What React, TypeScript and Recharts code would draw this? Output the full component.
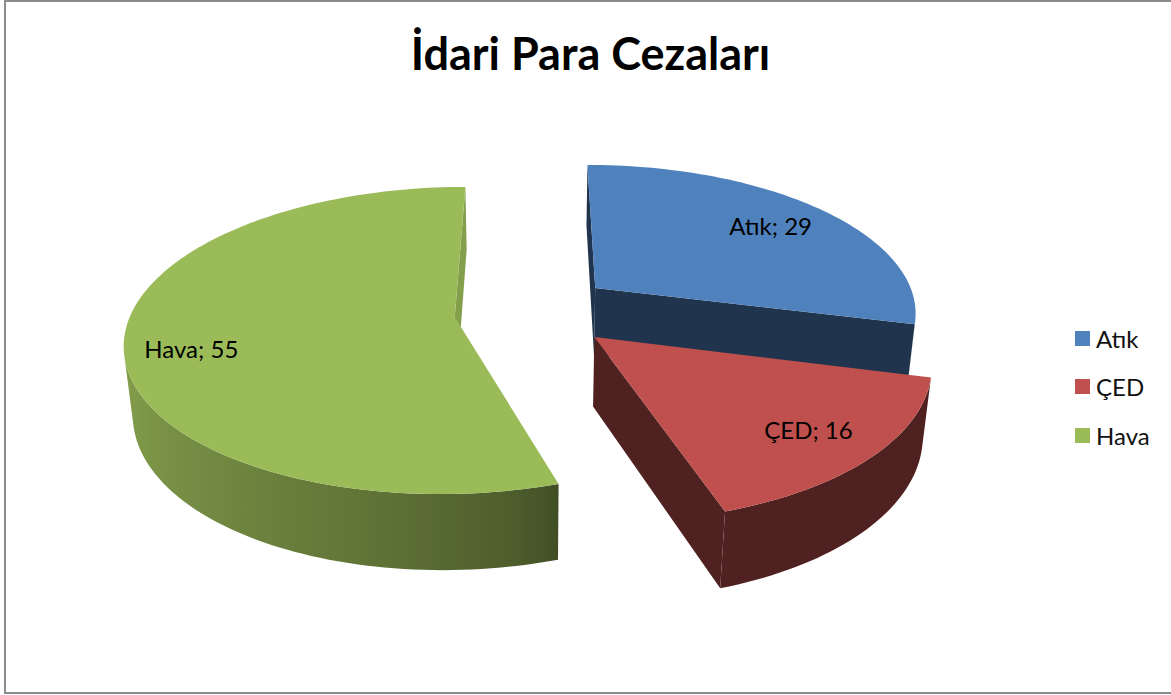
import React from 'react'
import { PieChart, Pie, Legend } from 'recharts'

const TITLE = 'İdari Para Cezaları'
const names = ['Atık', 'ÇED', 'Hava']
const values = [29, 16, 55]
const colors = ['#4f81bd', '#c0504d', '#9bbb59']

const data = names.map((name, i) => ({ name, value: values[i], fill: colors[i] }))

// fake 3D camera, fitted by eye against the picture
const PERSPECTIVE = 0.153
const SQUASH = 150 / 325
const DEPTH = 70 / 325
const DEPTH_SHRINK = 0.022

// how far each slice is pulled out, in radius units
const explode: Record<string, { x: number; y: number; cut: number; label: number; dy: number }> = {
  'Atık': { x: 0.191, y: -0.2, cut: 0.41, label: 0.77, dy: 0 },
  'ÇED': { x: 0.179, y: 0.131, cut: 0.41, label: 0.79, dy: 0 },
  'Hava': { x: -0.247, y: 0, cut: 0.85, label: 0.8, dy: 12 },
}

const project = (cx: number, cy: number, r: number, x: number, y: number, z: number) => {
  const k = 1 / (1 - PERSPECTIVE * y + DEPTH_SHRINK * z)
  return [cx + r * x * k, cy + r * (SQUASH * y + DEPTH * z) * k]
}

const toPath = (pts: number[][]) =>
  'M' + pts.map(p => p[0].toFixed(2) + ',' + p[1].toFixed(2)).join('L') + 'Z'

const area = (pts: number[][]) =>
  pts.reduce((sum, p, i) => {
    const q = pts[(i + 1) % pts.length]
    return sum + p[0] * q[1] - q[0] * p[1]
  }, 0)

const darken = (hex: string, f: number) => {
  const n = parseInt(hex.slice(1), 16)
  const c = [n >> 16, (n >> 8) & 255, n & 255].map(v => Math.round(v * f))
  return `rgb(${c[0]},${c[1]},${c[2]})`
}

const rimShade = (deg: number) => {
  const t = Math.min(1, Math.max(0, (deg - 162) / 108))
  return 0.41 + 0.49 * Math.pow(t, 0.65)
}

function Slice3D(props: any) {
  const { cx, cy, outerRadius: r, startAngle, endAngle, fill, name } = props
  const ex = explode[name]
  const from = 90 - startAngle
  const to = 90 - endAngle
  const steps = Math.ceil((to - from) / 1.5)
  const pt = (deg: number, z: number, rr = 1) => {
    const t = (deg * Math.PI) / 180
    return project(cx, cy, r, ex.x + rr * Math.sin(t), ex.y - rr * Math.cos(t), z)
  }
  const angles = Array.from({ length: steps + 1 }, (_, i) => from + ((to - from) * i) / steps)

  const startCut = [pt(from, 0, 0), pt(from, 0), pt(from, 1), pt(from, 1, 0)]
  const endCut = [pt(to, 0, 0), pt(to, 0), pt(to, 1), pt(to, 1, 0)]
  const cutColor = darken(fill, ex.cut)

  // the part of the rim that faces the viewer, as one shape with a sideways gradient
  const seen = angles.filter((a, i) => {
    const b = angles[i + 1] ?? a
    const c = angles[i - 1] ?? a
    return area([pt(a, 0), pt(b, 0), pt(b, 1), pt(a, 1)]) < 0 || area([pt(c, 0), pt(a, 0), pt(a, 1), pt(c, 1)]) < 0
  })
  const rim = [...seen.map(a => pt(a, 0)), ...[...seen].reverse().map(a => pt(a, 1))]
  const xs = seen.map(a => pt(a, 0)[0])
  const minX = Math.min(...xs)
  const maxX = Math.max(...xs)
  const gradId = 'rim' + Math.round(from)

  const top = [pt(from, 0, 0), ...angles.map(a => pt(a, 0))]
  return (
    <g>
      {area(startCut) < 0 && <path d={toPath(startCut)} fill={cutColor} />}
      {area(endCut) > 0 && <path d={toPath(endCut)} fill={cutColor} />}
      {seen.length > 1 && (
        <>
          <defs>
            <linearGradient id={gradId} gradientUnits="userSpaceOnUse" x1={minX} x2={maxX} y1={0} y2={0}>
              {[...seen].reverse().map(a => (
                <stop key={a} offset={(pt(a, 0)[0] - minX) / (maxX - minX)} stopColor={darken(fill, rimShade(a))} />
              ))}
            </linearGradient>
          </defs>
          <path d={toPath(rim)} fill={`url(#${gradId})`} />
        </>
      )}
      <path d={toPath(top)} fill={fill} />
    </g>
  )
}

const sliceLabel = (props: any) => {
  const { cx, cy, outerRadius: r, midAngle, name, value } = props
  const ex = explode[name]
  const t = ((90 - midAngle) * Math.PI) / 180
  const [x, y] = project(cx, cy, r, ex.x + ex.label * Math.sin(t), ex.y - ex.label * Math.cos(t), 0)
  return (
    <text x={x} y={y + ex.dy} textAnchor="middle" dominantBaseline="central" fontFamily="Lato" fontSize={24} fill="#000">
      {name + '; ' + value}
    </text>
  )
}

const legendContent = () => (
  <div style={{ fontFamily: 'Lato', fontSize: 24, color: '#111' }}>
    {data.map(d => (
      <div key={d.name} style={{ display: 'flex', alignItems: 'center', height: 48.5 }}>
        <span style={{ width: 15, height: 15, background: d.fill, marginRight: 6 }} />
        {d.name}
      </div>
    ))}
  </div>
)

export default function App() {
  return (
    <div style={{ position: 'fixed', left: 0, top: 0, width: 1171, height: 695, overflow: 'hidden', background: '#fff' }}>
      <div style={{ position: 'absolute', left: 4, top: 0, width: 1190, height: 694, boxSizing: 'border-box', border: '2px solid #8c8c8c' }} />
      <div style={{ position: 'absolute', left: 0, top: 22, width: 1181, textAlign: 'center', fontFamily: 'Lato', fontWeight: 700, fontSize: 45, lineHeight: '62px', color: '#000' }}>
        {TITLE}
      </div>
      <div style={{ position: 'absolute', left: 0, top: 0 }}>
        <PieChart width={1171} height={695} margin={{ top: 0, right: 0, bottom: 0, left: 0 }}>
          <Pie
            data={data}
            dataKey="value"
            nameKey="name"
            cx={535}
            cy={317}
            innerRadius={0}
            outerRadius={325}
            startAngle={90}
            endAngle={-270}
            paddingAngle={0}
            stroke="none"
            shape={Slice3D}
            label={sliceLabel}
            labelLine={false}
            isAnimationActive={false}
          />
          <Legend content={legendContent} wrapperStyle={{ left: 1075, top: 314, width: 95, bottom: 'auto', right: 'auto' }} />
        </PieChart>
      </div>
    </div>
  )
}
